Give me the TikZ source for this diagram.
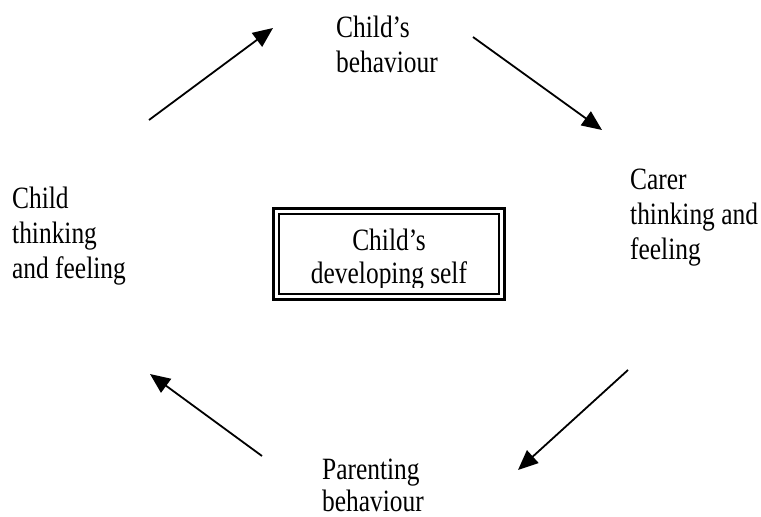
\documentclass[tikz,border=0pt]{standalone}
\usepackage{fontspec}
\setmainfont[FakeStretch=0.82]{Liberation Serif}
\usetikzlibrary{arrows.meta,fit}

\tikzset{
  lbl/.style={anchor=north west,align=left,inner sep=0pt,font=\fontsize{31}{35}\selectfont},
  cyc/.style={line width=1.8pt,-{Triangle[length=20pt,width=17pt]}}
}

\begin{document}
\begin{tikzpicture}[x=1pt,y=-1pt]
\useasboundingbox (0,0) rectangle (761,517);
\node[lbl] (cbeh) at (336,16) {Child’s\\behaviour};
\node[lbl] (ctf) at (12,187) {Child\\thinking\\and feeling};
\node[lbl] (crtf) at (630,169) {Carer\\thinking and\\feeling};
\node[lbl,font=\fontsize{31}{32}\selectfont] (pbeh) at (322,459) {Parenting\\behaviour};
\node[draw,line width=1.5pt,minimum width=220,minimum height=80] (self) at (389,254) {};
\node[fit=(self),inner sep=5pt,draw,line width=3pt] (selfrim) {};
\begin{scope}
  \clip (self.north west) rectangle (499,287);
  \node[anchor=north,align=center,inner sep=0pt,font=\fontsize{31}{33}\selectfont]
    (selftxt) at (389,229) {Child’s\\developing self};
\end{scope}
\coordinate (a1s) at (149,120); \coordinate (a1e) at (273,28);
\coordinate (a2s) at (473,37);  \coordinate (a2e) at (602,130);
\coordinate (a3s) at (628,370); \coordinate (a3e) at (518,470);
\coordinate (a4s) at (262,456); \coordinate (a4e) at (150,374);
\draw[cyc] (a1s) -- (a1e);
\draw[cyc] (a2s) -- (a2e);
\draw[cyc] (a3s) -- (a3e);
\draw[cyc] (a4s) -- (a4e);
\end{tikzpicture}
\end{document}
